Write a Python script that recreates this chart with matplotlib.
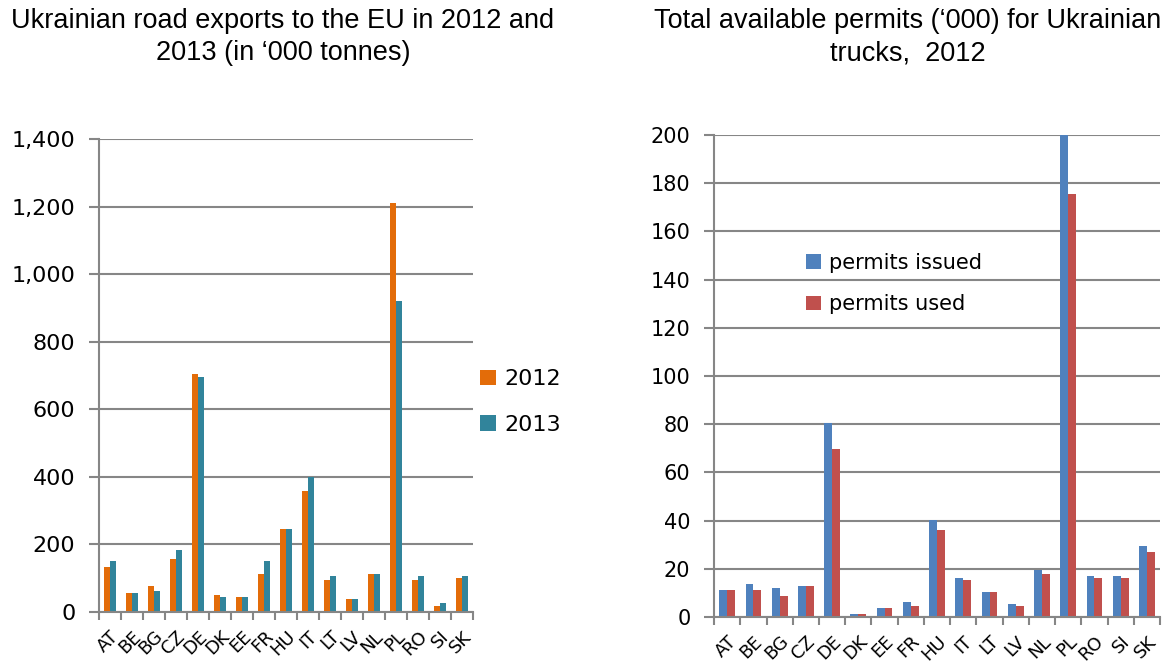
import matplotlib.pyplot as plt
import numpy as np
from matplotlib.ticker import FuncFormatter

countries = ["AT", "BE", "BG", "CZ", "DE", "DK", "EE", "FR", "HU",
             "IT", "LT", "LV", "NL", "PL", "RO", "SI", "SK"]

# road exports, '000 tonnes
exports_2012 = [132, 57, 76, 158, 704, 50, 44, 113, 245,
                358, 95, 38, 113, 1210, 95, 19, 101]
exports_2013 = [151, 57, 63, 183, 697, 44, 44, 151, 245,
                399, 107, 38, 113, 920, 107, 26, 107]

# permits, '000
permits_issued = [11.2, 13.7, 12.0, 12.8, 80.3, 1.1, 3.6, 6.1, 40.4,
                  16.2, 10.3, 5.3, 19.5, 200.0, 17.2, 17.2, 29.5]
permits_used = [11.2, 11.2, 8.6, 12.8, 69.5, 1.1, 3.6, 4.5, 36.3,
                15.3, 10.3, 4.5, 17.9, 175.4, 16.2, 16.2, 27.0]

GRID = "#868686"


def style_axes(ax, ticksize):
    for s in ("top", "right"):
        ax.spines[s].set_visible(False)
    for s in ("left", "bottom"):
        ax.spines[s].set_color(GRID)
        ax.spines[s].set_linewidth(1.5)
    ax.yaxis.grid(True, color=GRID, linewidth=1.5)
    ax.set_axisbelow(True)
    ax.tick_params(axis="y", length=7, width=1.5, color=GRID, pad=10,
                   labelsize=ticksize)
    # category boundaries get the x ticks, labels sit under the centres
    n = len(countries)
    ax.set_xlim(-0.5, n - 0.5)
    ax.set_xticks(np.arange(-0.5, n, 1.0))
    ax.set_xticklabels([])
    ax.tick_params(axis="x", which="major", length=6, width=1.5, color=GRID)
    ax.set_xticks(np.arange(n), minor=True)
    ax.set_xticklabels(countries, minor=True, rotation=45, ha="right",
                       rotation_mode="anchor", fontsize=13)
    ax.tick_params(axis="x", which="minor", length=0, pad=11)


fig = plt.figure(figsize=(11.62, 6.66), dpi=100)
x = np.arange(len(countries))

# left: exports
ax1 = fig.add_axes([0.0852, 0.081, 0.322, 0.7103])
w1 = 0.27
ax1.bar(x - w1 / 2, exports_2012, w1, color="#E36C09", label="2012")
ax1.bar(x + w1 / 2, exports_2013, w1, color="#31849B", label="2013")
ax1.set_ylim(0, 1400)
ax1.set_yticks(np.arange(0, 1401, 200))
ax1.yaxis.set_major_formatter(FuncFormatter(lambda v, p: f"{int(v):,}"))
style_axes(ax1, 16)
ax1.legend(loc="center left", bbox_to_anchor=(0.965, 0.444), frameon=False,
           fontsize=16, handlelength=0.7, handleheight=0.7,
           handletextpad=0.4, labelspacing=1.15)

# right: permits
ax2 = fig.add_axes([0.6145, 0.0736, 0.3838, 0.7237])
w2 = 0.3
ax2.bar(x - w2 / 2, permits_issued, w2, color="#4F81BD", label="permits issued")
ax2.bar(x + w2 / 2, permits_used, w2, color="#C0504D", label="permits used")
ax2.set_ylim(0, 200)
ax2.set_yticks(np.arange(0, 201, 20))
style_axes(ax2, 15)
ax2.legend(loc="upper left", bbox_to_anchor=(0.164, 0.795), frameon=False,
           fontsize=15, handlelength=0.7, handleheight=0.7,
           handletextpad=0.4, labelspacing=1.05)

title_kw = dict(ha="center", va="top", fontsize=19.5, family="Liberation Sans",
                linespacing=1.3)
fig.text(283 / 1162, 1 - 8 / 666,
         "Ukrainian road exports to the EU in 2012 and\n2013 (in \u2018000 tonnes)",
         **title_kw)
fig.text(908 / 1162, 1 - 8 / 666,
         "Total available permits (\u2018000) for Ukrainian\ntrucks,  2012",
         **title_kw)

fig.savefig("out.png", dpi=100)
